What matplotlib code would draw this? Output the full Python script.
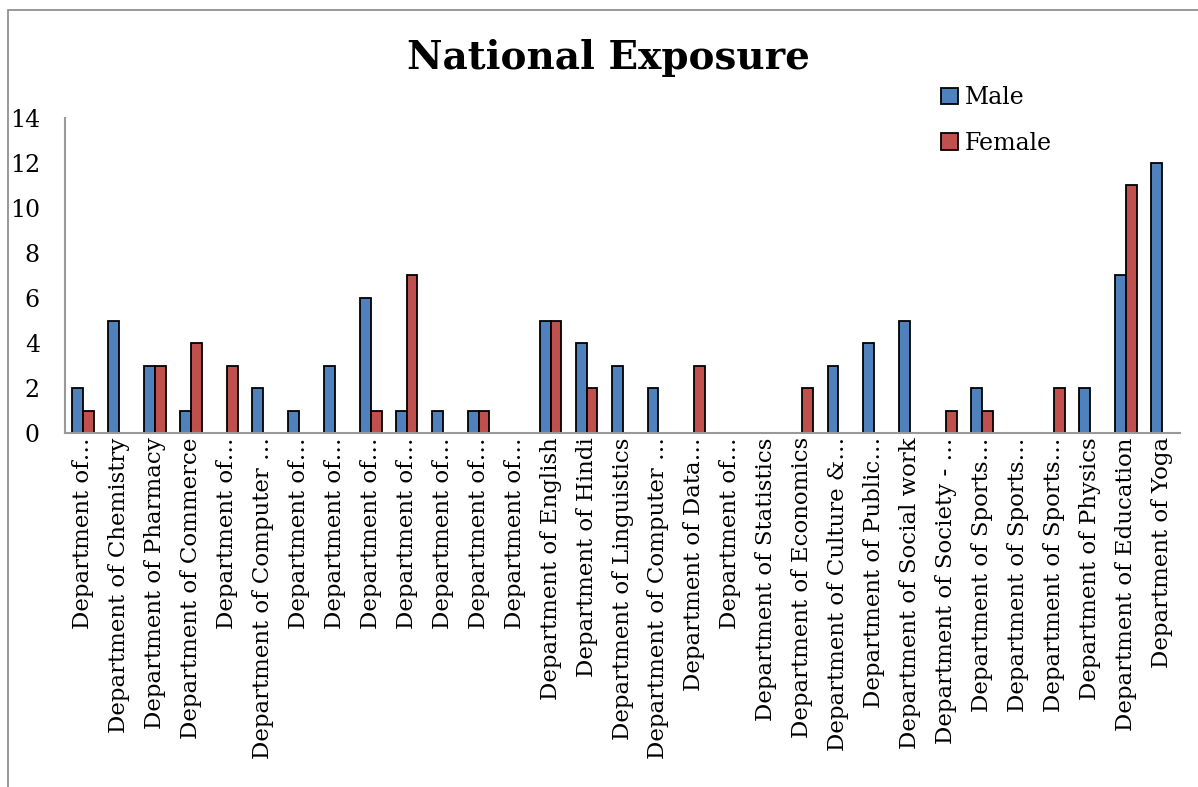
import numpy as np
import matplotlib
matplotlib.use('Agg')
import matplotlib.pyplot as plt
from matplotlib.patches import Rectangle

# department labels as shown (Excel truncated the long ones)
departments = [
    'Department of…', 'Department of Chemistry', 'Department of Pharmacy',
    'Department of Commerce', 'Department of…', 'Department of Computer …',
    'Department of…', 'Department of…', 'Department of…', 'Department of…',
    'Department of…', 'Department of…', 'Department of…',
    'Department of English', 'Department of Hindi', 'Department of Linguistics',
    'Department of Computer …', 'Department of Data…', 'Department of…',
    'Department of Statistics', 'Department of Economics',
    'Department of Culture &…', 'Department of Public…',
    'Department of Social work', 'Department of Society - …',
    'Department of Sports…', 'Department of Sports…', 'Department of Sports…',
    'Department of Physics', 'Department of Education', 'Department of Yoga',
]
male = [2, 5, 3, 1, 0, 2, 1, 3, 6, 1, 1, 1, 0, 5, 4, 3, 2, 0, 0, 0, 0, 3, 4, 5, 0, 2, 0, 0, 2, 7, 12]
female = [1, 0, 3, 4, 3, 0, 0, 0, 1, 7, 0, 1, 0, 5, 2, 0, 0, 3, 0, 0, 2, 0, 0, 0, 1, 1, 0, 2, 0, 11, 0]

plt.rcParams['font.family'] = ['DejaVu Serif']

fig = plt.figure(figsize=(11.98, 7.87), dpi=100)
ax = fig.add_axes([65 / 1198, 1 - 433 / 787, (1180 - 65) / 1198, (433 - 118) / 787])

x = np.arange(len(departments))
w = 0.3
ax.bar(x - w / 2, male, w, color='#4F81BD', edgecolor='black', linewidth=1.3, label='Male')
ax.bar(x + w / 2, female, w, color='#C0504D', edgecolor='black', linewidth=1.3, label='Female')

ax.set_xlim(-0.5, len(departments) - 0.5)
ax.set_ylim(0, 14)
ax.set_yticks(range(0, 15, 2))
ax.set_xticks(x)
ax.set_xticklabels(departments, rotation=90, fontsize=16.5)
ax.tick_params(axis='x', length=0, pad=3)
ax.tick_params(axis='y', length=0, pad=18, labelsize=17)

for side in ['top', 'right']:
    ax.spines[side].set_visible(False)
for side in ['left', 'bottom']:
    ax.spines[side].set_color('#999999')
    ax.spines[side].set_linewidth(1.5)

fig.text(608 / 1198, 1 - 58 / 787, 'National Exposure', ha='center', va='center',
         fontsize=28, fontweight='bold')

fig.legend(loc='upper left', bbox_to_anchor=(920 / 1198, 1 - 65 / 787), frameon=False,
           fontsize=17, handlelength=0.7, handleheight=0.7, handletextpad=0.3,
           labelspacing=0.95)

# outer chart-area border (cropped at right and bottom)
fig.patches.append(Rectangle((8 / 1198, -0.1), 1.2, 1 - 10 / 787 + 0.1, transform=fig.transFigure,
                             fill=False, edgecolor='#888888', linewidth=1.2))

fig.savefig('out.png', dpi=100)
